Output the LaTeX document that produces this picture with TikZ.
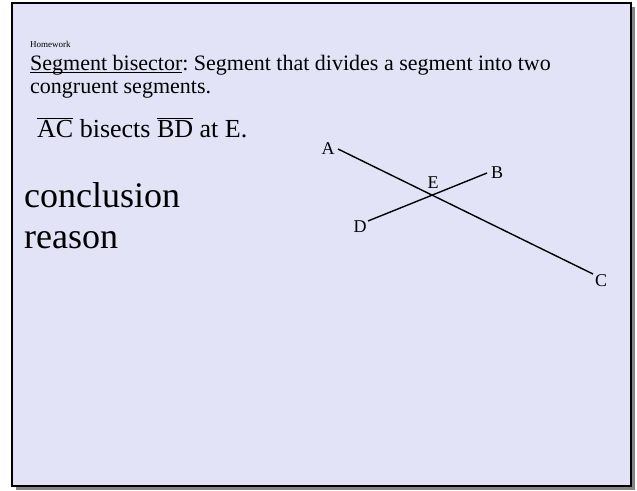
\documentclass[tikz,border=0pt]{standalone}
\usepackage{fontspec}
\setmainfont{Liberation Serif}
\frenchspacing
\definecolor{slidebg}{HTML}{E3E3F7}
\definecolor{shadowgray}{HTML}{858585}
\newcommand\segul[1]{\setbox0\hbox{#1}\rlap{\raisebox{-2.5pt}{\rule{\wd0}{0.9pt}}}\box0}
\tikzset{
  txt/.style={anchor=base west, inner sep=0pt, text=black},
  pt/.style={font=\fontsize{18}{20}\selectfont, inner sep=0pt, text=black},
  seg/.style={line width=1.4pt, black}
}
\begin{document}
\begin{tikzpicture}[x=1pt,y=-1pt]
\useasboundingbox (0,0) rectangle (637,490);
\fill[white] (0,0) rectangle (637,490);
% shadow
\fill[shadowgray] (16,7) rectangle (635,490);
% slide
\filldraw[fill=slidebg, draw=black, line width=2pt] (12,3) rectangle (631,486);
% texts
\node[txt, font=\fontsize{9}{10}\selectfont] (hw) at (30,47) {Homework};
\node[txt, font=\fontsize{22}{25}\selectfont] (def1) at (30,70) {\segul{Segment bisector}: Segment that divides a segment into two};
\node[txt, font=\fontsize{22}{25}\selectfont] (def2) at (30,93) {congruent segments.};
\node[txt, font=\fontsize{26}{30}\selectfont] (given) at (37,137) {$\overline{\mbox{AC}}$ bisects $\overline{\mbox{BD}}$ at E.};
\node[txt, font=\fontsize{36}{40}\selectfont] (concl) at (24,207) {conclusion};
\node[txt, font=\fontsize{36}{40}\selectfont] (reas) at (24,248) {reason};
% geometry
\coordinate (A) at (338,149);
\coordinate (C) at (593,274);
\coordinate (B) at (487,173);
\coordinate (D) at (368,221);
\draw[seg] (A) -- (C);
\draw[seg] (D) -- (B);
\node[pt] (lA) at (328,149) {A};
\node[pt] (lB) at (497,173) {B};
\node[pt] (lC) at (601,281) {C};
\node[pt] (lD) at (360,227) {D};
\node[pt] (lE) at (433,183) {E};
\end{tikzpicture}
\end{document}
